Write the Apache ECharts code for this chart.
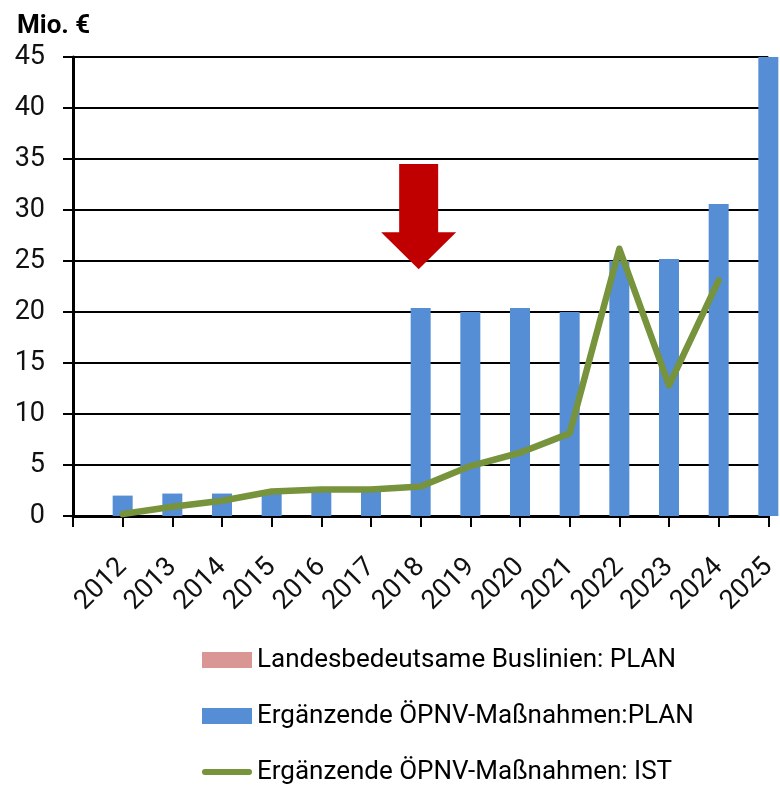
<!DOCTYPE html>
<html>
<head>
<meta charset="utf-8">
<script src="https://cdn.jsdelivr.net/npm/echarts@6/dist/echarts.min.js"></script>
<style>
html,body{margin:0;padding:0;background:#fff;}
#main{width:780px;height:788px;}
</style>
</head>
<body>
<div id="main"></div>
<script>
// Categories (leading empty slot sits on the y axis, as in the original)
var categories = ['', '2012', '2013', '2014', '2015', '2016', '2017', '2018', '2019', '2020', '2021', '2022', '2023', '2024', '2025'];
// Landesbedeutsame Buslinien: PLAN (no visible values)
var busPlan = ['-', '-', '-', '-', '-', '-', '-', '-', '-', '-', '-', '-', '-', '-', '-'];
// Ergänzende ÖPNV-Maßnahmen: PLAN
var oepnvPlan = ['-', 2.0, 2.2, 2.2, 2.3, 2.5, 2.5, 20.4, 20.0, 20.4, 20.0, 25.0, 25.2, 30.6, 45];
// Ergänzende ÖPNV-Maßnahmen: IST
var oepnvIst = ['-', 0.2, 0.9, 1.5, 2.4, 2.6, 2.6, 2.9, 4.9, 6.2, 8.1, 26.2, 12.8, 23.1, '-'];
// Y axis
var yMin = 0, yMax = 45, yStep = 5;
// Red arrow annotation
var arrowCategory = '2018';
var arrowTopValue = 34.5;
var arrowTipValue = 24.2;

var FONT = 'Roboto';
var chart = echarts.init(document.getElementById('main'), null, {renderer: 'canvas'});

var lineIcon = 'path://M3,0 H49 A3,3 0 0 1 49,6 H3 A3,3 0 0 1 3,0 Z';

var option = {
  animation: false,
  backgroundColor: '#ffffff',
  grid: {left: 73, right: 6, top: 57, bottom: 272, containLabel: false},
  title: {
    text: 'Mio. €', left: 12, top: 8,
    textStyle: {fontFamily: FONT, fontSize: 26, fontWeight: 'bold', color: '#000'}
  },
  legend: {
    orient: 'vertical', left: 202, top: 645, padding: 0,
    itemWidth: 50, itemHeight: 16, itemGap: 26,
    symbolKeepAspect: true,
    textStyle: {fontFamily: FONT, fontSize: 26, color: '#000', lineHeight: 30, padding: [0, 0, 0, 0]},
    data: [
      {name: 'Landesbedeutsame Buslinien: PLAN', icon: 'rect'},
      {name: 'Ergänzende ÖPNV-Maßnahmen:PLAN', icon: 'rect'},
      {name: 'Ergänzende ÖPNV-Maßnahmen: IST', icon: lineIcon, itemStyle: {color: '#77933C'}}
    ]
  },
  xAxis: {
    type: 'category', data: categories, boundaryGap: false,
    axisLine: {lineStyle: {color: '#000', width: 3}},
    axisTick: {show: true, length: 11, interval: 0, lineStyle: {color: '#000', width: 2}},
    axisLabel: {interval: 0, rotate: 45, margin: 47, fontFamily: FONT, fontSize: 27, color: '#111'},
    splitLine: {show: false}
  },
  yAxis: {
    type: 'value', min: yMin, max: yMax, interval: yStep,
    axisLine: {show: true, lineStyle: {color: '#000', width: 3}},
    axisTick: {show: true, length: 10, lineStyle: {color: '#000', width: 2}},
    axisLabel: {margin: 28, fontFamily: FONT, fontSize: 27, color: '#111'},
    splitLine: {show: true, lineStyle: {color: '#000', width: 2}}
  },
  series: [
    {
      name: 'Landesbedeutsame Buslinien: PLAN', type: 'bar', stack: 'plan',
      barWidth: 20, data: busPlan, clip: false,
      itemStyle: {color: '#D99694'}
    },
    {
      name: 'Ergänzende ÖPNV-Maßnahmen:PLAN', type: 'bar', stack: 'plan',
      barWidth: 20, data: oepnvPlan, clip: false,
      itemStyle: {color: '#558ED5'}
    },
    {
      name: 'Ergänzende ÖPNV-Maßnahmen: IST', type: 'line', data: oepnvIst,
      symbol: 'none', showSymbol: false, connectNulls: false,
      lineStyle: {color: '#77933C', width: 6.5, cap: 'round', join: 'round'},
      itemStyle: {color: '#77933C'}, z: 5
    }
  ]
};
chart.setOption(option);

// Red arrow built from its data values through the chart's scales
var arrowTopPx = chart.convertToPixel({gridIndex: 0}, [arrowCategory, arrowTopValue]);
var arrowTipPx = chart.convertToPixel({gridIndex: 0}, [arrowCategory, arrowTipValue]);
var cx = arrowTipPx[0] - 2;
var shaftHalf = 19.5, headHalf = 37.5, headLen = 37;
var yTop = arrowTopPx[1], yTip = arrowTipPx[1];
chart.setOption({
  graphic: [{
    type: 'polygon', z: 10,
    shape: {points: [
      [cx - shaftHalf, yTop], [cx + shaftHalf, yTop],
      [cx + shaftHalf, yTip - headLen], [cx + headHalf, yTip - headLen],
      [cx, yTip],
      [cx - headHalf, yTip - headLen], [cx - shaftHalf, yTip - headLen]
    ]},
    style: {fill: '#C00000'}
  }]
});
</script>
</body>
</html>
